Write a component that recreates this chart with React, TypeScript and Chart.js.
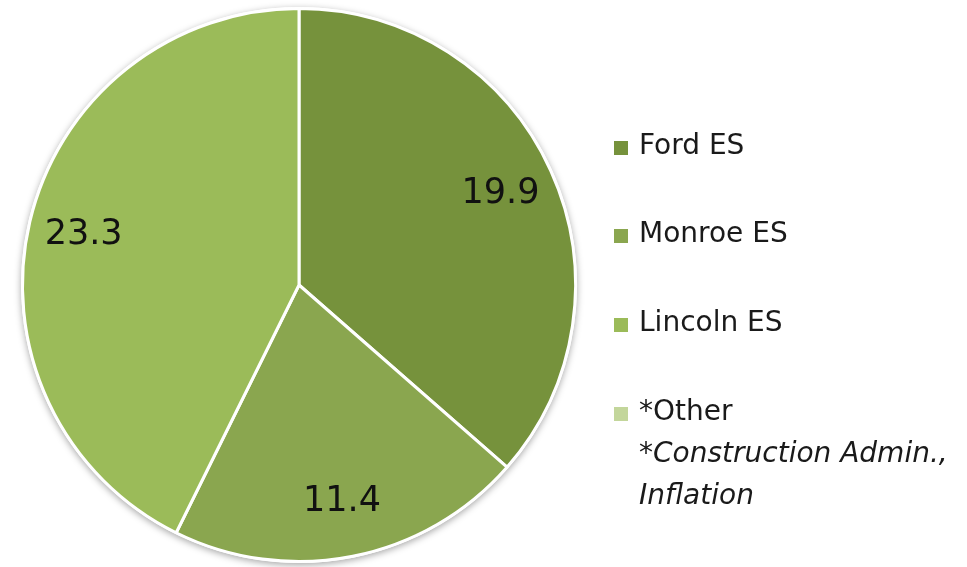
import React, { useEffect, useRef } from "react";
import { Chart, registerables } from "chart.js";

Chart.register(...registerables);

const categories = ["Ford ES", "Monroe ES", "Lincoln ES", "*Other"];
const values = [19.9, 11.4, 23.3, 0];
const colors = ["#76923c", "#8aa64f", "#9bbb59", "#c3d69b"];
const noteLines = ["*Construction Admin.,", "Inflation"];

const FONT = "'DejaVu Sans', sans-serif";

const shadowPlugin = {
  id: "pieShadow",
  beforeDatasetsDraw(chart: any) {
    const meta = chart.getDatasetMeta(0);
    const arc = meta.data[0];
    if (!arc) return;
    const { x, y, outerRadius } = arc.getProps(["x", "y", "outerRadius"], true);
    const ctx = chart.ctx;
    ctx.save();
    ctx.shadowColor = "rgba(0,0,0,0.35)";
    ctx.shadowBlur = 7;
    ctx.shadowOffsetX = 0;
    ctx.shadowOffsetY = 2;
    ctx.fillStyle = "#ffffff";
    ctx.beginPath();
    ctx.arc(x, y, outerRadius + 1.5, 0, Math.PI * 2);
    ctx.fill();
    ctx.restore();
  },
};

const labelPlugin = {
  id: "sliceLabels",
  afterDatasetsDraw(chart: any) {
    const meta = chart.getDatasetMeta(0);
    const data = chart.data.datasets[0].data as number[];
    const ctx = chart.ctx;
    ctx.save();
    ctx.font = `35px ${FONT}`;
    ctx.fillStyle = "#111111";
    ctx.textAlign = "center";
    ctx.textBaseline = "middle";
    meta.data.forEach((arc: any, i: number) => {
      if (!data[i]) return;
      const { x, y, startAngle, endAngle, outerRadius } = arc.getProps(
        ["x", "y", "startAngle", "endAngle", "outerRadius"],
        true
      );
      const mid = (startAngle + endAngle) / 2;
      const r = outerRadius * 0.8;
      ctx.fillText(data[i].toFixed(1), x + Math.cos(mid) * r, y + Math.sin(mid) * r);
    });
    ctx.restore();
  },
};

export default function App() {
  const ref = useRef<HTMLCanvasElement | null>(null);

  useEffect(() => {
    if (!ref.current) return;
    const chart = new Chart(ref.current, {
      type: "pie",
      data: {
        labels: categories,
        datasets: [
          {
            data: values,
            backgroundColor: colors,
            borderColor: "#ffffff",
            borderWidth: 3,
          },
        ],
      },
      options: {
        animation: false,
        responsive: false,
        devicePixelRatio: 1,
        layout: { padding: { left: 21, right: 390, top: 7, bottom: 4 } },
        plugins: {
          legend: { display: false },
          tooltip: { enabled: false },
        },
      },
      plugins: [shadowPlugin, labelPlugin],
    });
    return () => chart.destroy();
  }, []);

  const baselines = [155, 243, 332, 421];
  const textStyle: React.CSSProperties = {
    position: "absolute",
    left: 639,
    fontFamily: FONT,
    fontSize: 28,
    lineHeight: "28px",
    color: "#1a1a1a",
    whiteSpace: "nowrap",
  };

  return (
    <div
      style={{
        position: "fixed",
        left: 0,
        top: 0,
        width: 967,
        height: 567,
        background: "#ffffff",
        overflow: "hidden",
      }}
    >
      <canvas ref={ref} width={967} height={567} style={{ position: "absolute", left: 0, top: 0 }} />
      {categories.map((c, i) => (
        <React.Fragment key={c}>
          <div
            style={{
              position: "absolute",
              left: 614,
              top: baselines[i] - 14,
              width: 14,
              height: 14,
              background: colors[i],
            }}
          />
          <div style={{ ...textStyle, top: baselines[i] - 24 }}>{c}</div>
        </React.Fragment>
      ))}
      {noteLines.map((t, i) => (
        <div key={t} style={{ ...textStyle, fontStyle: "italic", top: 463 + i * 42 - 24 }}>
          {t}
        </div>
      ))}
    </div>
  );
}
